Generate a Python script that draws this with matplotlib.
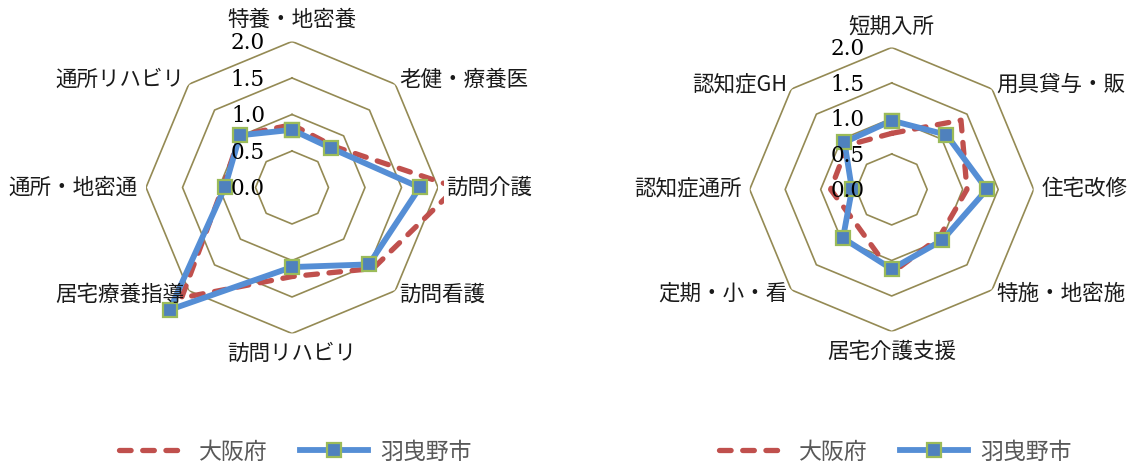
import numpy as np
import matplotlib.pyplot as plt
from matplotlib.transforms import Bbox, TransformedBbox, offset_copy

plt.rcParams['font.family'] = ['Noto Sans CJK JP', 'DejaVu Sans']

left_cats = ['特養・地密養', '老健・療養医', '訪問介護', '訪問看護',
             '訪問リハビリ', '居宅療養指導', '通所・地密通', '通所リハビリ']
left_osaka = [0.86, 0.80, 2.25, 1.57, 1.22, 2.14, 0.95, 1.01]
left_habikino = [0.79, 0.76, 1.75, 1.49, 1.09, 2.37, 0.92, 1.01]

right_cats = ['短期入所', '用具貸与・販', '住宅改修', '特施・地密施',
              '居宅介護支援', '定期・小・看', '認知症通所', '認知症GH']
right_osaka = [0.79, 1.38, 1.06, 0.95, 1.18, 0.70, 0.86, 0.88]
right_habikino = [0.97, 1.09, 1.34, 1.01, 1.12, 0.97, 0.56, 0.94]

levels = [0.0, 0.5, 1.0, 1.5, 2.0]
series_names = ['大阪府', '羽曳野市']

GRID = '#948A54'
RED = '#C0504D'
BLUE = '#558ED5'

fig = plt.figure(figsize=(11.29, 4.67), dpi=100)


def radar(rect, cats, osaka, habikino):
    ax = fig.add_axes(rect, projection='polar')
    ax.set_theta_zero_location('N')
    ax.set_theta_direction(-1)
    ax.set_ylim(0, 2)
    ax.grid(False)
    ax.set_xticks([])
    ax.set_yticks([])
    ax.spines['polar'].set_visible(False)
    ax.patch.set_alpha(0)

    n = len(cats)
    ang = np.arange(n) * 2 * np.pi / n
    ang_c = np.append(ang, ang[0])

    for lv in levels[1:]:
        ax.plot(ang_c, [lv] * (n + 1), color=GRID, lw=1.2, zorder=1)

    l1, = ax.plot(ang_c, osaka + osaka[:1], color=RED, lw=3.8,
                  dashes=(2.2, 2.2), dash_capstyle='round',
                  label=series_names[0], zorder=2)
    l2, = ax.plot(ang_c, habikino + habikino[:1], color=BLUE, lw=4.2,
                  marker='s', markersize=10.5, markerfacecolor='#4F81BD',
                  markeredgecolor='#9BBB59', markeredgewidth=1.6,
                  label=series_names[1], zorder=2.5)
    lines = [l1, l2]
    # clip to the square plot area, not the polar circle
    box = TransformedBbox(Bbox([[-0.02, -0.02], [1.02, 1.02]]), ax.transAxes)
    for ln in lines:
        ln.set_clip_path(None)
        ln.set_clip_box(box)

    tr = offset_copy(ax.transData, fig=fig, x=-27, y=-2, units='dots')
    for lv in levels:
        ax.text(0, lv, f'{lv:.1f}', transform=tr, ha='right', va='center',
                family='DejaVu Serif', fontsize=15.5, color='black', zorder=3)

    for k, (a, c) in enumerate(zip(ang, cats)):
        if k == 0:
            r, ha = 2.3, 'center'
        elif k == n // 2:
            r, ha = 2.28, 'center'
        elif k % 2 == 0:
            r, ha = 2.11, 'left' if k < n // 2 else 'right'
        else:
            r, ha = 2.08, 'left' if k < n // 2 else 'right'
        ax.text(a, r, c, ha=ha, va='center', fontsize=15.5, color='#1a1a1a')
    return ax, lines


ax1, h1 = radar([0.1293, 0.2859, 0.2587, 0.6253], left_cats, left_osaka, left_habikino)
ax2, h2 = radar([0.6640, 0.2902, 0.2516, 0.6082], right_cats, right_osaka, right_habikino)

for h, cx in [(h1, 295 / 1129), (h2, 895 / 1129)]:
    fig.legend(handles=h, loc='center', bbox_to_anchor=(cx, 15 / 467), ncol=2,
               frameon=False, fontsize=16.5, handlelength=3.0,
               handletextpad=0.5, columnspacing=1.4, numpoints=1,
               labelcolor='#595959')

fig.savefig('out.png', dpi=100)
